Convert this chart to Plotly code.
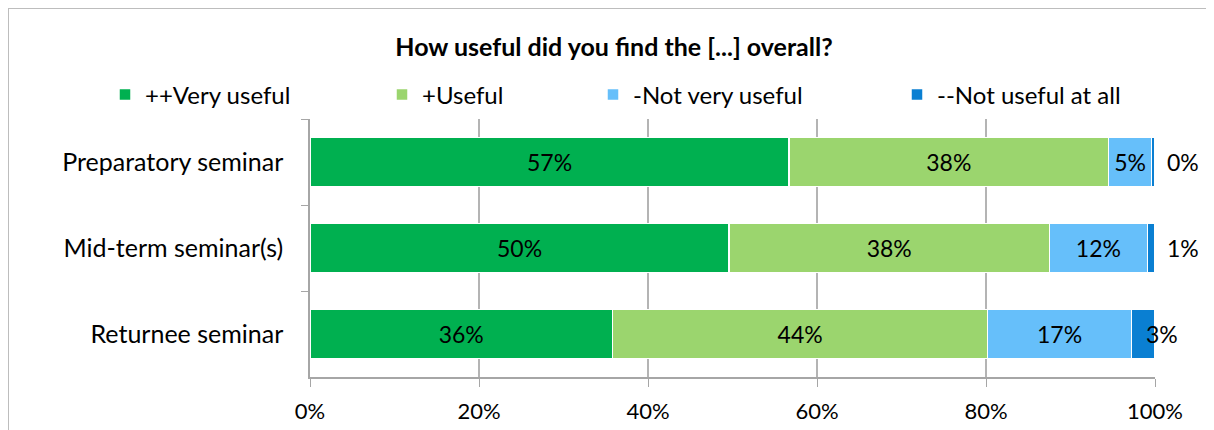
import plotly.graph_objects as go

categories = ["Preparatory seminar", "Mid-term seminar(s)", "Returnee seminar"]
very_useful = [56.7, 49.6, 35.8]
useful = [37.8, 37.9, 44.4]
not_very_useful = [5.1, 11.6, 17.0]
not_useful_at_all = [0.4, 0.9, 2.8]
series_names = ["++Very useful", "+Useful", "-Not very useful", "--Not useful at all"]
x_tick_values = [0, 20, 40, 60, 80, 100]
x_tick_labels = ["0%", "20%", "40%", "60%", "80%", "100%"]
title_text = "How useful did you find the [...] overall?"

# styles
colors = ["#00B050", "#9BD56E", "#66BFFA", "#0A7FD2"]
FONT = "Lato"
W, H = 1214, 430
OFF = 8  # page body margin: figure origin sits at page (8, 8)
# plot area in page pixels
PL, PR, PT, PB = 310, 1155, 119, 377
L, T = PL - OFF, PT - OFF
R = W - (PR - OFF)
B = H - (PB - OFF)
legend_marker_px = [124, 401, 612, 916]
last_label_shift_px = [28, 28, 7]

series = [very_useful, useful, not_very_useful, not_useful_at_all]

fig = go.Figure()
for i, (name, vals) in enumerate(zip(series_names, series)):
    is_last = i == len(series) - 1
    fig.add_trace(go.Bar(
        y=categories, x=vals, name=name, orientation="h",
        marker=dict(color=colors[i], line=dict(color="white", width=1.5)),
        text=None if is_last else [f"{round(v)}%" for v in vals],
        textposition="inside", insidetextanchor="middle",
        textfont=dict(family=FONT, size=23, color="black"),
        legend="legend" if i == 0 else f"legend{i+1}",
        hoverinfo="x+y+name",
    ))

# labels for last series, outside the bar end
for cat, a, b_, c, d, sh in zip(categories, very_useful, useful, not_very_useful,
                                not_useful_at_all, last_label_shift_px):
    fig.add_annotation(x=a + b_ + c + d, y=cat, text=f"{round(d)}%", showarrow=False,
                       xshift=sh, font=dict(family=FONT, size=23, color="black"))

def cx(px):
    return (px - OFF) / W

def cy(py):
    return 1 - (py - OFF) / H

legend_cfg = {}
for i, mx in enumerate(legend_marker_px):
    key = "legend" if i == 0 else f"legend{i+1}"
    legend_cfg[key] = dict(
        xref="container", yref="container", x=cx(mx - 19), y=cy(95),
        xanchor="left", yanchor="middle", orientation="h",
        font=dict(family=FONT, size=24, color="black"),
        bgcolor="rgba(0,0,0,0)", itemclick=False,
    )

fig.update_layout(
    template="none",
    width=W, height=H,
    margin=dict(l=L, r=R, t=T, b=B, pad=0, autoexpand=False),
    barmode="stack", bargap=0.43,
    plot_bgcolor="white", paper_bgcolor="white",
    font=dict(family=FONT, size=24, color="black"),
    title=dict(text=f"<b>{title_text}</b>", x=cx(614), y=cy(47),
               xref="container", yref="container", xanchor="center", yanchor="middle",
               font=dict(family=FONT, size=25, color="black")),
    showlegend=True,
    uniformtext=dict(mode=False),
    **legend_cfg,
)

fig.update_xaxes(
    range=[0, 100], tickvals=x_tick_values, ticktext=x_tick_labels,
    showgrid=True, gridcolor="#B4B4B4", gridwidth=1.5,
    showline=True, linecolor="#A6A6A6", linewidth=1.5,
    ticks="outside", ticklen=8, tickcolor="#A6A6A6", tickwidth=1,
    tickfont=dict(family=FONT, size=22, color="black"), ticklabelstandoff=6,
    zeroline=False, fixedrange=True, automargin=False,
)
fig.update_yaxes(
    categoryorder="array", categoryarray=categories, autorange="reversed",
    showline=True, linecolor="#A6A6A6", linewidth=1.5,
    ticks="outside", ticklen=7, tickcolor="#A6A6A6", tickwidth=1, tickson="boundaries",
    tickfont=dict(family=FONT, size=25, color="black"), ticklabelstandoff=20,
    showgrid=False, fixedrange=True, automargin=False, zeroline=False,
)

# chart frame (outer border): top and left edges of the figure
pw = PR - PL
ph = PB - PT
fx0, fx1 = -L / pw, (W - L) / pw
fy0, fy1 = -B / ph, (H - B) / ph
for x0, y0, x1, y1 in [(fx0, fy1, fx1, fy1), (fx0, fy0, fx0, fy1)]:
    fig.add_shape(type="line", xref="paper", yref="paper",
                  x0=x0, y0=y0, x1=x1, y1=y1,
                  line=dict(color="#BDBDBD", width=2), layer="below")

fig.write_html(
    "out.html",
    post_script="document.documentElement.style.overflow='hidden';"
                "document.body.style.overflow='hidden';",
)
